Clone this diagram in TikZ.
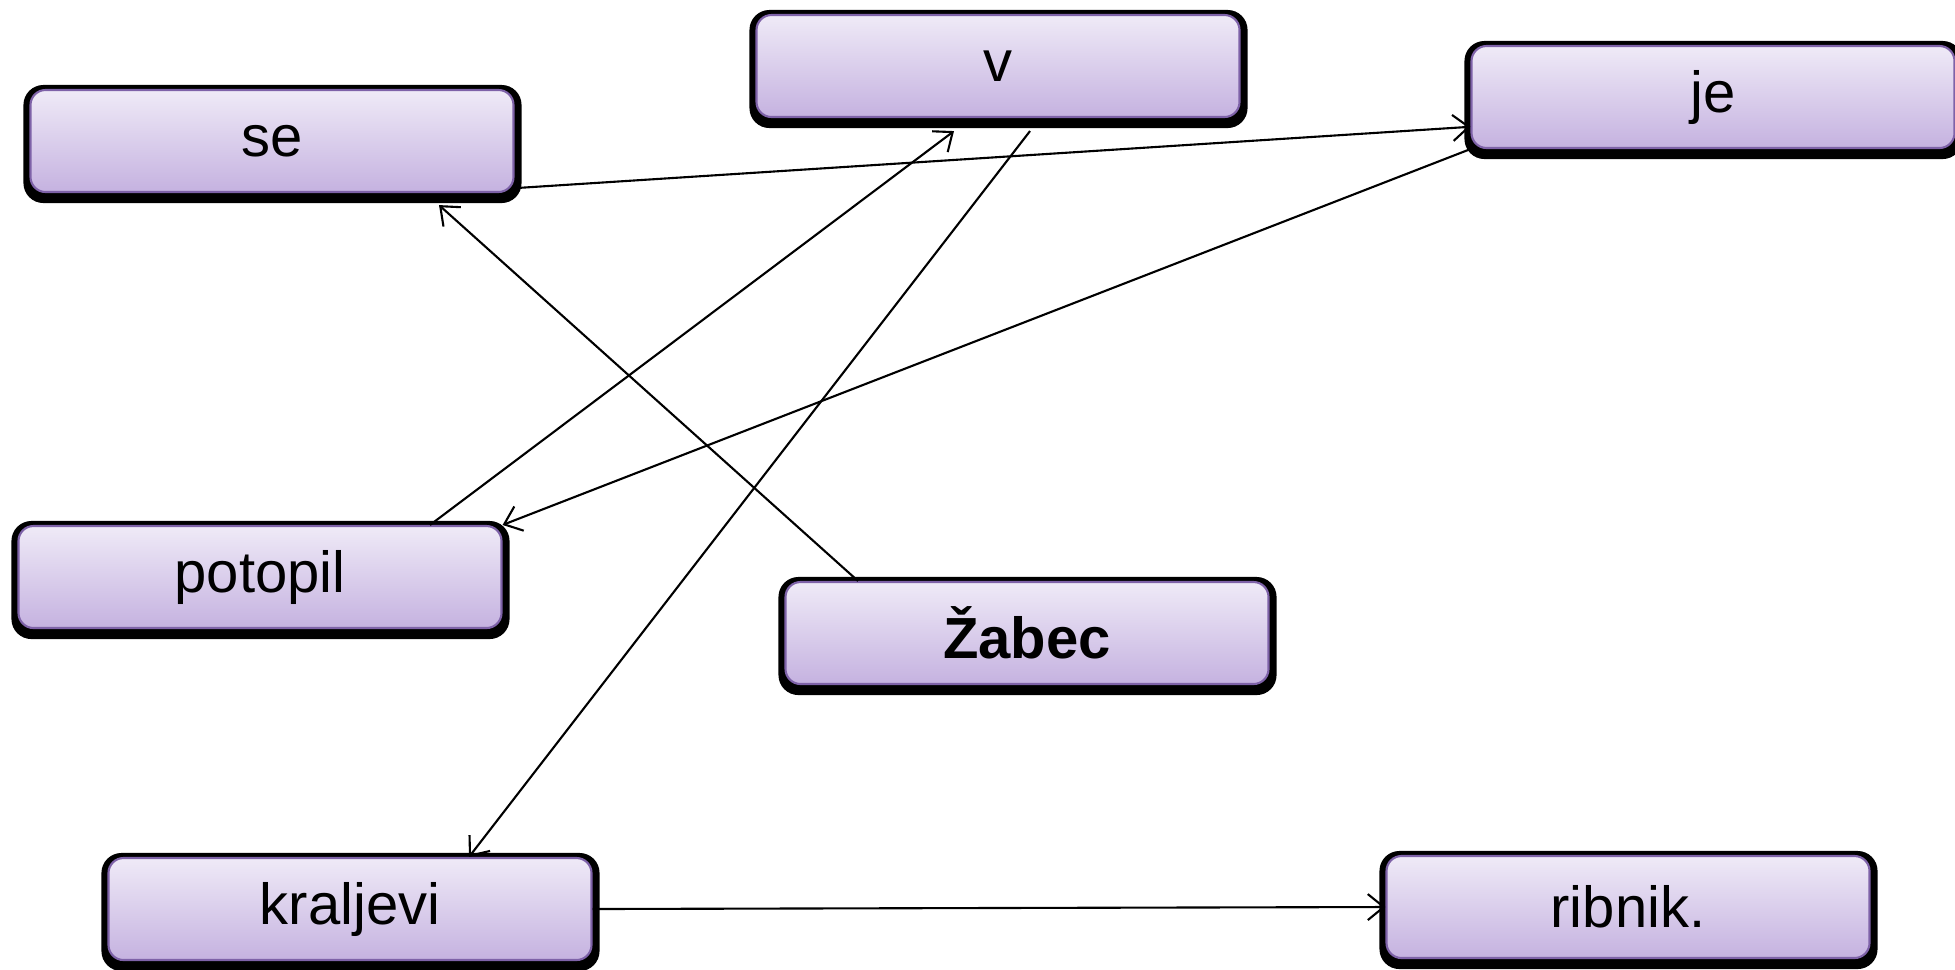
\documentclass[tikz,border=0pt]{standalone}
\usepackage{fontspec}
\setmainfont{Liberation Sans}
\usetikzlibrary{arrows.meta,backgrounds}
\definecolor{boxtop}{HTML}{EFEAF7}
\definecolor{boxbot}{HTML}{C5B2E0}
\definecolor{boxline}{HTML}{7E62A8}
\tikzset{
  word/.style={rectangle, rounded corners=0.15cm, minimum width=4.83cm, minimum height=1.02cm,
    inner sep=0pt, draw=boxline, line width=0.6pt, top color=boxtop, bottom color=boxbot,
    font=\fontsize{16.5}{20}\selectfont},
  boxshadow/.style={fill=black, rounded corners=0.2cm},
  link/.style={line width=0.6pt, -{Straight Barb[length=1.6mm,width=2.6mm]}}
}

\begin{document}
\begin{tikzpicture}
            \useasboundingbox (0,0) rectangle (19.55,-9.69);
            \node[word] (se) at (2.72,-1.41) {se};
            \node[word] (v) at (9.98,-0.66) {v};
            \node[word] (je) at (17.13,-0.97) {je};
            \node[word] (potopil) at (2.60,-5.77) {potopil};
            \node[word] (zabec) at (10.27,-6.33) {\textbf{Žabec}};
            \node[word] (kraljevi) at (3.50,-9.09) {kraljevi};
            \node[word] (ribnik) at (16.28,-9.07) {ribnik.};
            % shadows behind the boxes
            \begin{scope}[on background layer]
              \foreach \n in {se,v,je,potopil,zabec,kraljevi,ribnik}
                \fill[boxshadow] ([xshift=-0.06cm,yshift=-0.1cm]\n.south west) rectangle ([xshift=0.07cm,yshift=0.04cm]\n.north east);
            \end{scope}
            % connectors
            \draw[link] (se.-11) -- (je.187);
            \draw[link] ([xshift=-1.69cm]zabec.north) -- ([xshift=1.67cm,yshift=-0.12cm]se.south);
            \draw[link] ([xshift=1.70cm]potopil.north) -- ([xshift=-0.44cm,yshift=-0.13cm]v.south);
            \draw[link] ([xshift=0.32cm,yshift=-0.13cm]v.south) -- ([xshift=1.19cm]kraljevi.north);
            \draw[link] (je.south west) -- (potopil.north east);
            \draw[link] (kraljevi.east) -- (ribnik.west);
        \end{tikzpicture}
\end{document}
